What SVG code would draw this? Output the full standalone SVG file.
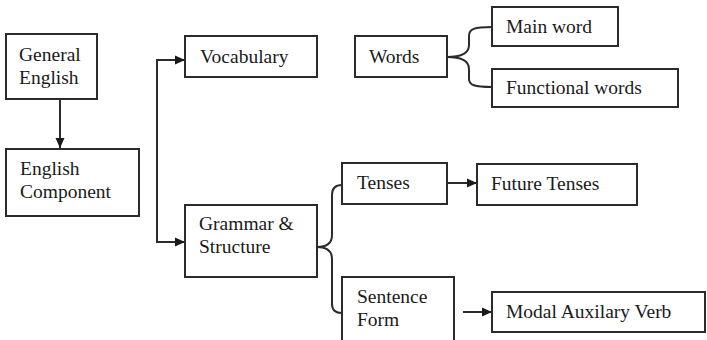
<svg xmlns="http://www.w3.org/2000/svg" width="707" height="340" viewBox="0 0 707 340">
  <style>
    .box { fill: #fff; stroke: #2b2b2b; stroke-width: 2; }
    .lbl { font-family: "Liberation Serif", "Times New Roman", serif; font-size: 19.5px; fill: #1a1a1a; }
    .wire { fill: none; stroke: #2b2b2b; stroke-width: 2; }
  </style>
  <defs>
    <marker id="arrow" viewBox="0 0 10 10" refX="10" refY="5" markerWidth="10" markerHeight="10" markerUnits="userSpaceOnUse" orient="auto">
      <path d="M0,0.5 L10,5 L0,9.5 Z" fill="#1a1a1a"/>
    </marker>
  </defs>
  <rect width="707" height="340" fill="#fff"/>

  <g id="connectors">
    <!-- General English to English Component -->
    <line class="wire" x1="60" y1="99" x2="60" y2="148" marker-end="url(#arrow)"/>
    <!-- bracket feeding Vocabulary and Grammar -->
    <path class="wire" d="M157,242 L157,60"/>
    <line class="wire" x1="156" y1="60" x2="185" y2="60" marker-end="url(#arrow)"/>
    <line class="wire" x1="156" y1="242" x2="185" y2="242" marker-end="url(#arrow)"/>
    <!-- brace from Words -->
    <path class="wire" d="M447,57 C461,57 469,54 469,45 L469,36 C469,29 474,27 492,27"/>
    <path class="wire" d="M447,57 C461,57 469,60 469,69 L469,79 C469,85 474,87 492,87"/>
    <!-- brace from Grammar & Structure -->
    <path class="wire" d="M317,247 C327,247 332,243 332,235 L332,195 C332,188 335,185 342,185"/>
    <path class="wire" d="M317,247 C327,247 332,251 332,259 L332,304 C332,310 335,313 342,313"/>
    <!-- Tenses to Future Tenses -->
    <line class="wire" x1="447" y1="183" x2="477" y2="183" marker-end="url(#arrow)"/>
    <!-- Sentence Form to Modal Auxilary Verb -->
    <line class="wire" x1="463" y1="312" x2="492" y2="312" marker-end="url(#arrow)"/>
  </g>

  <g id="general-english">
    <rect class="box" x="6" y="34" width="91" height="65"/>
    <text class="lbl" x="19" y="61">General</text>
    <text class="lbl" x="19" y="84">English</text>
  </g>
  <g id="english-component">
    <rect class="box" x="6" y="149" width="133" height="67"/>
    <text class="lbl" x="20" y="175">English</text>
    <text class="lbl" x="20" y="198">Component</text>
  </g>
  <g id="vocabulary">
    <rect class="box" x="185" y="36" width="132" height="41"/>
    <text class="lbl" x="200" y="63">Vocabulary</text>
  </g>
  <g id="grammar-structure">
    <rect class="box" x="185" y="205" width="132" height="72"/>
    <text class="lbl" x="199" y="230">Grammar &amp;</text>
    <text class="lbl" x="199" y="253">Structure</text>
  </g>
  <g id="words">
    <rect class="box" x="355" y="36" width="92" height="41"/>
    <text class="lbl" x="369" y="63">Words</text>
  </g>
  <g id="main-word">
    <rect class="box" x="492" y="7" width="126" height="39"/>
    <text class="lbl" x="506" y="33">Main word</text>
  </g>
  <g id="functional-words">
    <rect class="box" x="492" y="69" width="186" height="38"/>
    <text class="lbl" x="506" y="94">Functional words</text>
  </g>
  <g id="tenses">
    <rect class="box" x="342" y="163" width="105" height="41"/>
    <text class="lbl" x="357" y="189">Tenses</text>
  </g>
  <g id="future-tenses">
    <rect class="box" x="477" y="164" width="160" height="41"/>
    <text class="lbl" x="491" y="190">Future Tenses</text>
  </g>
  <g id="sentence-form">
    <rect class="box" x="342" y="277" width="112" height="80"/>
    <text class="lbl" x="357" y="303">Sentence</text>
    <text class="lbl" x="357" y="326">Form</text>
  </g>
  <g id="modal-auxilary-verb">
    <rect class="box" x="492" y="292" width="213" height="40"/>
    <text class="lbl" x="506" y="318">Modal Auxilary Verb</text>
  </g>
</svg>
